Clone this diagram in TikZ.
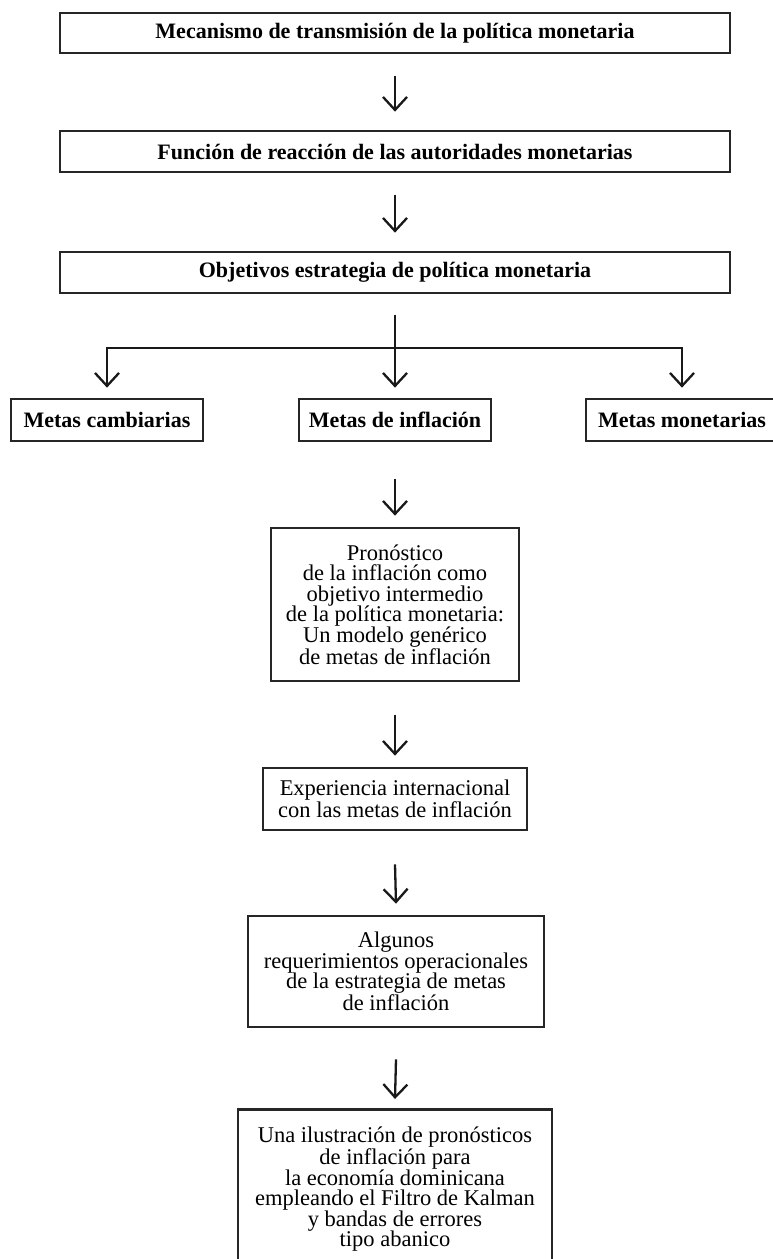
\documentclass[tikz,border=0pt]{standalone}
\usepackage{fontspec}
\setmainfont{Liberation Serif}
\usetikzlibrary{arrows.meta}
\begin{document}
\begin{tikzpicture}[x=1pt,y=-1pt,
  boxb/.style={draw=black!85, line width=2.7pt, inner sep=0pt, align=center,
    font=\fontsize{22}{24}\selectfont\bfseries},
  boxr/.style={draw=black!85, line width=2.7pt, inner sep=0pt, align=center,
    font=\fontsize{22.5}{20.5}\selectfont},
  arr/.style={draw=black!90, line width=2.3pt, -{Straight Barb[length=13pt,width=24pt,line width=2.3pt]}}]
\useasboundingbox (0,0) rectangle (773,1259);
% top boxes
\node[boxb, minimum width=670pt, minimum height=40pt] (b1) at (395,33) {Mecanismo de transmisión de la política monetaria};
\node[boxb, minimum width=670pt, minimum height=41pt] (b2) at (395,151.5) {Función de reacción de las autoridades monetarias};
\node[boxb, minimum width=670pt, minimum height=41pt] (b3) at (395,272.5) {Objetivos estrategia de política monetaria};
% row of strategies
\node[boxb, minimum width=192pt, minimum height=42pt] (mc) at (107,420) {Metas cambiarias};
\node[boxb, minimum width=192pt, minimum height=42pt] (mi) at (395,420) {Metas de inflación};
\node[boxb, minimum width=192pt, minimum height=42pt] (mm) at (682,420) {Metas monetarias};
% lower chain
\node[boxr, minimum width=248pt, minimum height=153pt] (p) at (395,604.5) {Pronóstico\\de la inflación como\\objetivo intermedio\\de la política monetaria:\\Un modelo genérico\\de metas de inflación};
\node[boxr, minimum width=264pt, minimum height=62pt] (e) at (395,799) {Experiencia internacional\\con las metas de inflación};
\node[boxr, minimum width=296pt, minimum height=111pt] (a) at (396,971.5) {Algunos\\requerimientos operacionales\\de la estrategia de metas\\de inflación};
\node[boxr, anchor=north, minimum width=314pt, minimum height=160pt] (u) at (395,1108) {Una ilustración de pronósticos\\de inflación para\\la economía dominicana\\empleando el Filtro de Kalman\\y bandas de errores\\tipo abanico};
% connectors
\draw[arr] ([yshift=-22pt]b1.south) -- ([yshift=18pt]b2.north);
\draw[arr] ([yshift=-22pt]b2.south) -- ([yshift=18pt]b3.north);
\coordinate (hy) at (395,348);
\draw[arr] ([yshift=-21pt]b3.south) -- ([yshift=10pt]mi.north);
\draw[arr] (hy) -| ([yshift=10pt]mc.north);
\draw[arr] (hy) -| ([yshift=10pt]mm.north);
\draw[arr] ([yshift=-37pt]mi.south) -- ([yshift=11pt]p.north);
\draw[arr] ([yshift=-33pt]p.south) -- ([yshift=11pt]e.north);
\draw[arr] ([yshift=-33pt]e.south) -- ([yshift=11pt]a.north);
\draw[arr] ([yshift=-31pt]a.south) -- ([yshift=9pt]u.north);
\end{tikzpicture}
\end{document}
